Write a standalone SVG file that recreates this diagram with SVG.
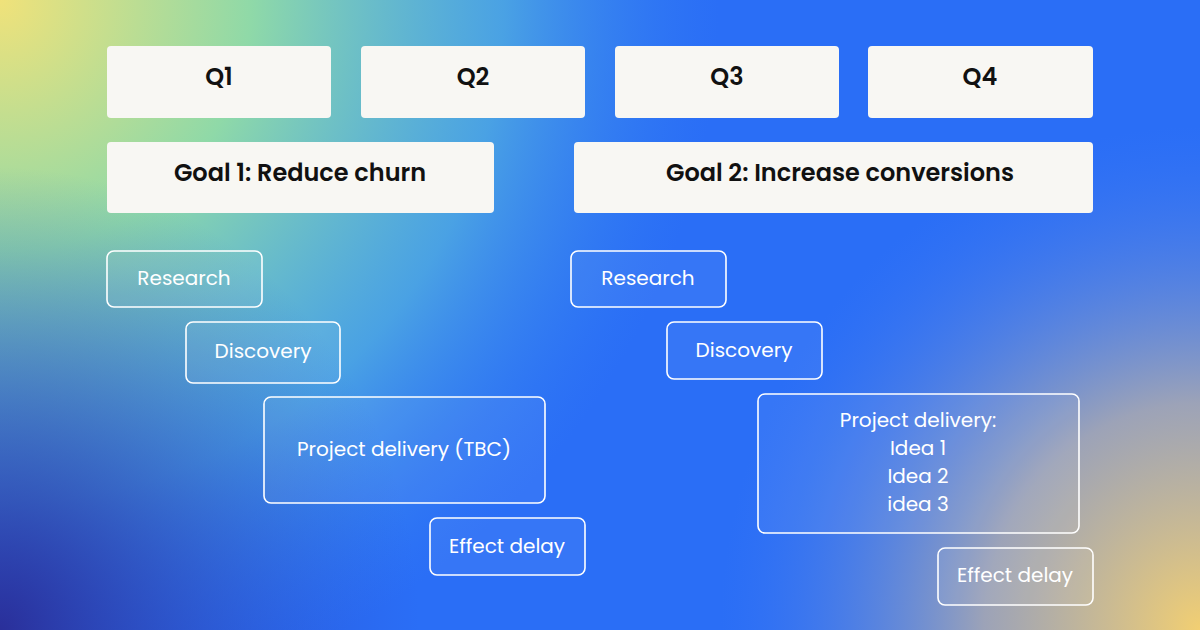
<svg xmlns="http://www.w3.org/2000/svg" width="1200" height="630" viewBox="0 0 1200 630">
<defs>
<linearGradient id="bg" x1="0" y1="0" x2="1" y2="1">
<stop offset="0" stop-color="#2a6ef6"/><stop offset="1" stop-color="#2a6ef6"/>
</linearGradient>
<radialGradient id="tl" cx="0" cy="0" r="0.6" gradientTransform="scale(1 1.9)">
<stop offset="0" stop-color="#f0e27a"/><stop offset="0.35" stop-color="#8fd9a8"/><stop offset="0.7" stop-color="#5fc4d8" stop-opacity="0.6"/><stop offset="1" stop-color="#3a8af0" stop-opacity="0"/>
</radialGradient>
<radialGradient id="bl" cx="0" cy="1" r="0.35" gradientTransform="translate(0 -1.1) scale(1 2.1)">
<stop offset="0" stop-color="#2a2f9a"/><stop offset="1" stop-color="#2a4fd0" stop-opacity="0"/>
</radialGradient>
<radialGradient id="br" cx="1" cy="1" r="0.4" gradientTransform="translate(0 -1) scale(1 2)">
<stop offset="0" stop-color="#f2cf72"/><stop offset="0.45" stop-color="#b9b0a8" stop-opacity="0.8"/><stop offset="1" stop-color="#4a7ff0" stop-opacity="0"/>
</radialGradient>
<style>
.s{fill:#f8f7f3;}
.t{font-family:"Poppins","Inter","Liberation Sans",sans-serif;font-weight:600;fill:#111;text-anchor:middle;}
.o{fill:#ffffff;fill-opacity:0.06;stroke:#ffffff;stroke-width:1.6;}
.w{font-family:"Poppins","Inter","Open Sans",sans-serif;font-size:20px;fill:#ffffff;text-anchor:middle;}
</style>
</defs>
<rect width="1200" height="630" fill="url(#bg)"/>
<rect width="1200" height="630" fill="url(#tl)"/>
<rect width="1200" height="630" fill="url(#bl)"/>
<rect width="1200" height="630" fill="url(#br)"/>
<g id="q1"><rect class="s" x="107" y="46" width="224" height="72" rx="4"/><text class="t" x="219" y="85" font-size="24">Q1</text></g>
<g id="q2"><rect class="s" x="361" y="46" width="224" height="72" rx="4"/><text class="t" x="473" y="85" font-size="24">Q2</text></g>
<g id="q3"><rect class="s" x="615" y="46" width="224" height="72" rx="4"/><text class="t" x="727" y="85" font-size="24">Q3</text></g>
<g id="q4"><rect class="s" x="868" y="46" width="225" height="72" rx="4"/><text class="t" x="980" y="85" font-size="24">Q4</text></g>
<g id="goal1"><rect class="s" x="107" y="142" width="387" height="71" rx="4"/><text class="t" x="300" y="181" font-size="24">Goal 1: Reduce churn</text></g>
<g id="goal2"><rect class="s" x="574" y="142" width="519" height="71" rx="4"/><text class="t" x="840" y="181" font-size="24">Goal 2: Increase conversions</text></g>
<g id="research1"><rect class="o" x="107" y="251" width="155" height="56" rx="7"/><text class="w" x="184" y="285">Research</text></g>
<g id="discovery1"><rect class="o" x="186" y="322" width="154" height="61" rx="7"/><text class="w" x="263" y="358">Discovery</text></g>
<g id="project1"><rect class="o" x="264" y="397" width="281" height="106" rx="7"/><text class="w" x="404" y="456">Project delivery (TBC)</text></g>
<g id="effect1"><rect class="o" x="430" y="518" width="155" height="57" rx="7"/><text class="w" x="507" y="553">Effect delay</text></g>
<g id="research2"><rect class="o" x="571" y="251" width="155" height="56" rx="7"/><text class="w" x="648" y="285">Research</text></g>
<g id="discovery2"><rect class="o" x="667" y="322" width="155" height="57" rx="7"/><text class="w" x="744" y="357">Discovery</text></g>
<g id="project2"><rect class="o" x="758" y="394" width="321" height="139" rx="7"/><text class="w" x="918" y="427">Project delivery:<tspan x="918" dy="28">Idea 1</tspan><tspan x="918" dy="28">Idea 2</tspan><tspan x="918" dy="28">idea 3</tspan></text></g>
<g id="effect2"><rect class="o" x="938" y="548" width="155" height="57" rx="7"/><text class="w" x="1015" y="582">Effect delay</text></g>
<g id="connectors"/>
</svg>
